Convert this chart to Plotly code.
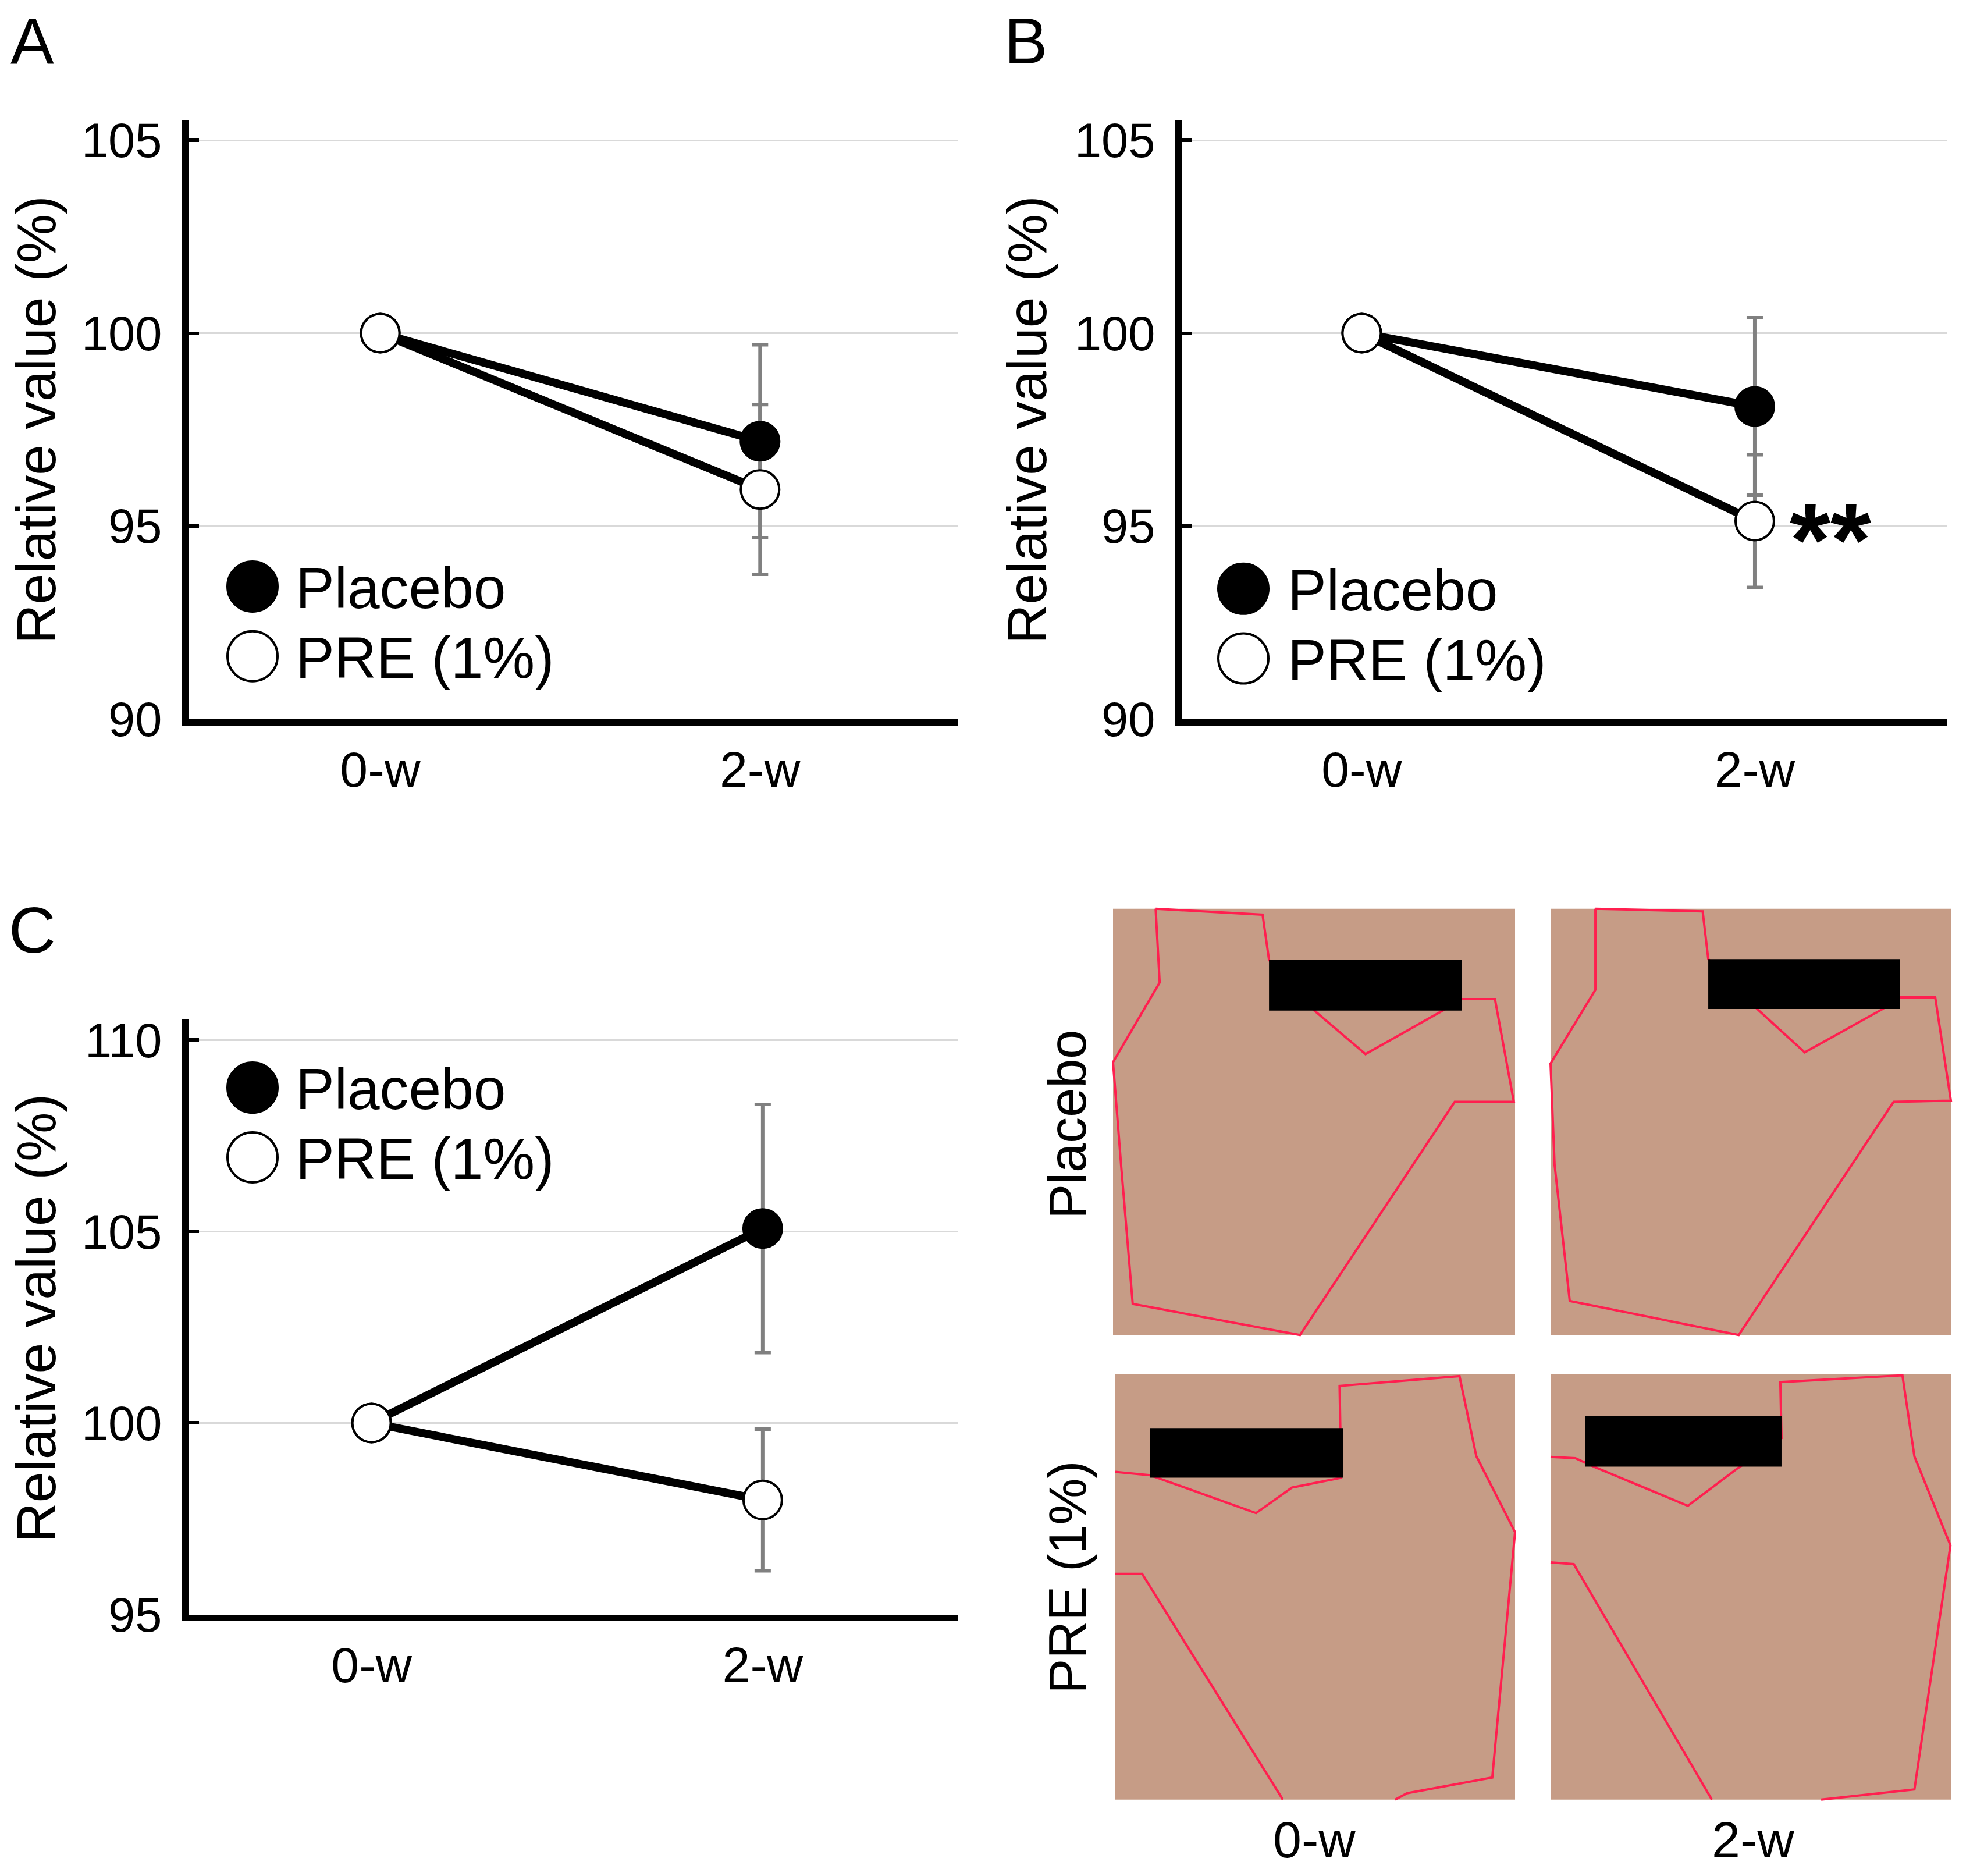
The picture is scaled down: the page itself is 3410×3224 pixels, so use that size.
import plotly.graph_objects as go

W, H = 3410, 3224
FONT = "Arial, Liberation Sans, sans-serif"

weeks = ["0-w", "2-w"]

# panel A
a_placebo = [100, 97.2]
a_placebo_err = [0, 2.5]
a_pre = [100, 95.95]
a_pre_err = [0, 2.2]
# panel B
b_placebo = [100, 98.1]
b_placebo_err = [0, 2.3]
b_pre = [100, 95.13]
b_pre_err = [0, 1.72]
# panel C
c_placebo = [100, 105.08]
c_placebo_err = [0, 3.24]
c_pre = [100, 97.99]
c_pre_err = [0, 1.85]

a_ticks = [90, 95, 100, 105]
c_ticks = [95, 100, 105, 110]


def px(x):
    return x / W


def py(y):
    return 1 - y / H


fig = go.Figure()


def add_panel(xa, ya, placebo, placebo_err, pre, pre_err):
    # error bars first so the markers sit on top
    for vals, err in [(placebo, placebo_err), (pre, pre_err)]:
        fig.add_trace(go.Scatter(
            x=weeks, y=vals, mode="markers", marker=dict(size=1, opacity=0),
            error_y=dict(type="data", array=err, color="#808080", thickness=6, width=14),
            xaxis=xa, yaxis=ya, showlegend=False, hoverinfo="skip"))
    fig.add_trace(go.Scatter(
        x=weeks, y=placebo, mode="lines+markers", name="Placebo",
        line=dict(color="black", width=14),
        marker=dict(size=66, color="black", line=dict(color="black", width=4)),
        xaxis=xa, yaxis=ya, showlegend=False))
    fig.add_trace(go.Scatter(
        x=weeks, y=pre, mode="lines+markers", name="PRE (1%)",
        line=dict(color="black", width=14),
        marker=dict(size=66, color="white", line=dict(color="black", width=4)),
        xaxis=xa, yaxis=ya, showlegend=False))


add_panel("x", "y", a_placebo, a_placebo_err, a_pre, a_pre_err)
add_panel("x2", "y2", b_placebo, b_placebo_err, b_pre, b_pre_err)
add_panel("x3", "y3", c_placebo, c_placebo_err, c_pre, c_pre_err)


def xaxis(dom, rng, anchor):
    return dict(domain=[px(dom[0]), px(dom[1])], range=rng, anchor=anchor,
                showline=True, linecolor="black", linewidth=11, ticks="",
                showgrid=False, zeroline=False, ticklabelstandoff=2,
                tickfont=dict(family=FONT, size=86, color="black"))


def yaxis(dom, rng, ticks, anchor):
    return dict(domain=[py(dom[1]), py(dom[0])], range=rng, anchor=anchor,
                tickvals=ticks, showline=True, linecolor="black", linewidth=11,
                ticks="inside", ticklen=18, tickwidth=6, tickcolor="black",
                showgrid=True, gridcolor="#d9d9d9", gridwidth=3, zeroline=False,
                ticklabelstandoff=18,
                tickfont=dict(family=FONT, size=83, color="black"))


annotations = []
shapes = []


def text(x, y, s, size, angle=0, xanchor="center"):
    annotations.append(dict(
        x=px(x), y=py(y), xref="paper", yref="paper", text=s, showarrow=False,
        textangle=angle, xanchor=xanchor, yanchor="middle",
        font=dict(family=FONT, size=size, color="black")))


def legend(cx, cy1, cy2, tx):
    for cy, fill, label in [(cy1, "black", "Placebo"), (cy2, "white", "PRE (1%)")]:
        shapes.append(dict(
            type="circle", xref="paper", yref="paper", xsizemode="pixel",
            ysizemode="pixel", xanchor=px(cx), yanchor=py(cy),
            x0=-43, x1=43, y0=-43, y1=43, fillcolor=fill,
            line=dict(color="black", width=4)))
        text(tx, cy + 2, label, 100, xanchor="left")


# panel letters and axis titles
text(47, 52, "A", 112)
text(1755, 52, "B", 112)
text(47, 1608, "C", 112)
text(54, 716, "Relative value (%)", 95, angle=-90)
text(1757, 716, "Relative value (%)", 95, angle=-90)
text(54, 2288, "Relative value (%)", 95, angle=-90)

legend(426, 1007, 1129, 498)
legend(2129, 1011, 1133, 2203)
legend(426, 1884, 2006, 498)

annotations.append(dict(
    x=weeks[1], y=b_pre[1], xref="x2", yref="y2", text="**", showarrow=False,
    xshift=130, yshift=-32, font=dict(family=FONT, size=180, color="black", weight="bold")))

# photo panel (drawn as plain tiles)
SKIN = "#c69c86"
RED = "#ff1f4f"
tiles = [
    # (x0, y0, x1, y1, bar box, outline paths)
    (1905, 1571, 2596, 2317, (0.388, 0.12, 0.867, 0.239),
     [[(0.106, 0.0), (0.372, 0.014), (0.388, 0.12), (0.501, 0.239), (0.628, 0.341),
       (0.82, 0.239), (0.867, 0.212), (0.95, 0.212), (0.997, 0.453), (0.85, 0.453),
       (0.465, 1.0), (0.049, 0.927), (0.02, 0.6), (0.0, 0.36), (0.116, 0.173), (0.106, 0.0)]]),
    (2657, 1571, 3345, 2317, (0.394, 0.118, 0.873, 0.235),
     [[(0.112, 0.0), (0.38, 0.006), (0.394, 0.118), (0.516, 0.235), (0.635, 0.337),
       (0.83, 0.235), (0.873, 0.208), (0.961, 0.208), (1.0, 0.45), (0.857, 0.453),
       (0.47, 1.0), (0.048, 0.92), (0.01, 0.6), (0.0, 0.363), (0.112, 0.19), (0.112, 0.0)]]),
    (1909, 2386, 2596, 3130, (0.087, 0.126, 0.57, 0.243),
     [[(0.0, 0.229), (0.087, 0.237), (0.352, 0.326), (0.442, 0.266), (0.565, 0.243),
       (0.561, 0.027), (0.861, 0.004), (0.903, 0.192), (1.0, 0.371), (0.943, 0.948),
       (0.73, 0.985), (0.70, 1.0)],
      [(0.419, 1.0), (0.067, 0.469), (0.0, 0.469)]]),
    (2657, 2386, 3345, 3130, (0.087, 0.098, 0.577, 0.217),
     [[(0.0, 0.194), (0.062, 0.197), (0.111, 0.218), (0.343, 0.309), (0.467, 0.221),
       (0.577, 0.15), (0.574, 0.018), (0.879, 0.002), (0.909, 0.193), (0.999, 0.402),
       (0.909, 0.976), (0.676, 1.0)],
      [(0.0, 0.442), (0.058, 0.446), (0.403, 1.0)]]),
]
for x0, y0, x1, y1, bar, paths in tiles:
    tw, th = x1 - x0, y1 - y0
    shapes.append(dict(type="rect", xref="paper", yref="paper",
                       x0=px(x0), x1=px(x1), y0=py(y1), y1=py(y0),
                       fillcolor=SKIN, line=dict(width=0)))
    for pts in paths:
        d = " ".join(("M" if i == 0 else "L") + f"{px(x0 + fx * tw):.5f},{py(y0 + fy * th):.5f}"
                     for i, (fx, fy) in enumerate(pts))
        shapes.append(dict(type="path", xref="paper", yref="paper", path=d,
                           line=dict(color=RED, width=4)))
    shapes.append(dict(type="rect", xref="paper", yref="paper",
                       x0=px(x0 + bar[0] * tw), x1=px(x0 + bar[2] * tw),
                       y0=py(y0 + bar[3] * th), y1=py(y0 + bar[1] * th),
                       fillcolor="black", line=dict(width=0)))

text(1827, 1949, "Placebo", 90, angle=-90)
text(1827, 2741, "PRE (1%)", 90, angle=-90)
text(2251, 3200, "0-w", 88)
text(3005, 3200, "2-w", 88)

fig.update_layout(
    width=W, height=H, margin=dict(l=0, r=0, t=0, b=0),
    paper_bgcolor="white", plot_bgcolor="white", showlegend=False,
    xaxis=xaxis((316, 1639), [-0.505, 1.522], "y"),
    yaxis=yaxis((191, 1239), [90, 105.52], a_ticks, "x"),
    xaxis2=xaxis((2023, 3339), [-0.458, 1.49], "y2"),
    yaxis2=yaxis((191, 1239), [90, 105.52], a_ticks, "x2"),
    xaxis3=xaxis((316, 1639), [-0.468, 1.5], "y3"),
    yaxis3=yaxis((1764, 2806), [95, 110.55], c_ticks, "x3"),
    annotations=annotations, shapes=shapes,
)

fig.write_html("out.html")
